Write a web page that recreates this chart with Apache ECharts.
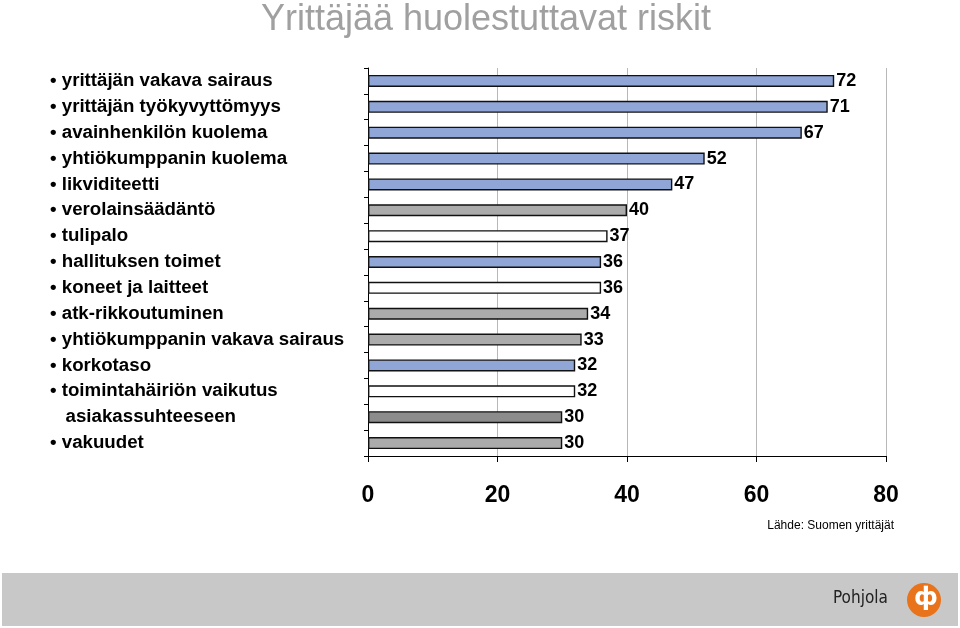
<!DOCTYPE html>
<html><head><meta charset="utf-8">
<script src="https://cdn.jsdelivr.net/npm/echarts@6/dist/echarts.min.js"></script>
<style>html,body{margin:0;padding:0;background:#fff}#c{width:960px;height:628px}</style>
</head><body><div id="c"></div>
<script>
const categories = ["yrittäjän vakava sairaus","yrittäjän työkyvyttömyys","avainhenkilön kuolema","yhtiökumppanin kuolema","likviditeetti","verolainsäädäntö","tulipalo","hallituksen toimet","koneet ja laitteet","atk-rikkoutuminen","yhtiökumppanin vakava sairaus","korkotaso","toimintahäiriön vaikutus","asiakassuhteeseen","vakuudet"];
const bullets = [true,true,true,true,true,true,true,true,true,true,true,true,true,false,true];
const values = [72,71,67,52,47,40,37,36,36,34,33,32,32,30,30];
const colors = ["#8FA6D6","#8FA6D6","#8FA6D6","#8FA6D6","#8FA6D6","#ABABAB","#FFFFFF","#8FA6D6","#FFFFFF","#ABABAB","#ABABAB","#8FA6D6","#FFFFFF","#8C8C8C","#ABABAB"];
const xTicks = [0,20,40,60,80];
const chart = echarts.init(document.getElementById('c'));
chart.setOption({
  animation:false,
  title:{text:'Yrittäjää huolestuttavat riskit',left:481,top:-3,textAlign:'center',textStyle:{color:'#A0A0A0',fontSize:36,fontWeight:'normal',fontFamily:'Liberation Sans'}},
  grid:{left:368,right:74,top:68,bottom:172},
  xAxis:{type:'value',min:0,max:80,interval:20,
    axisLine:{show:true,lineStyle:{color:'#000'}},axisTick:{show:true,length:6,lineStyle:{color:'#000'}},
    splitLine:{show:true,lineStyle:{color:'#888',width:0.6}},
    axisLabel:{color:'#000',fontSize:23,fontWeight:'bold',margin:28,fontFamily:'Liberation Sans',formatter:v=>xTicks.includes(v)?String(v):''}},
  yAxis:{type:'category',inverse:true,data:categories,
    axisLine:{show:true,lineStyle:{color:'#000'}},axisTick:{show:true,length:4,lineStyle:{color:'#000'}},
    axisLabel:{align:'left',margin:318,color:'#000',fontSize:18.7,fontWeight:'bold',fontFamily:'Liberation Sans',
      formatter:(v,i)=>(bullets[i]?'• ':'   ')+v}},
  series:[{type:'bar',data:values.map((v,i)=>({value:v,itemStyle:{color:colors[i]}})),
    barWidth:12,itemStyle:{borderColor:'#111',borderWidth:1.4},
    label:{show:true,position:'right',distance:2,color:'#000',fontSize:18,fontWeight:'bold',fontFamily:'Liberation Sans'}}],
  graphic:[
    {type:'text',right:66,top:520,style:{text:'Lähde: Suomen yrittäjät',fontSize:12,fill:'#000',fontFamily:'Liberation Sans'}},
    {type:'rect',left:2,top:573,shape:{width:956,height:53},style:{fill:'#C8C8C8'}},
    {type:'text',left:833,top:590,style:{text:'Pohjola',fontSize:17,fill:'#222',fontFamily:'DejaVu Sans Condensed'}},
    {type:'circle',shape:{cx:924,cy:600,r:17},style:{fill:'#E8731A'}},
    {type:'text',left:914,top:587,style:{text:'ф',fontSize:24,fontWeight:'bold',fill:'#fff',fontFamily:'DejaVu Sans'}}
  ]
});
</script></body></html>
